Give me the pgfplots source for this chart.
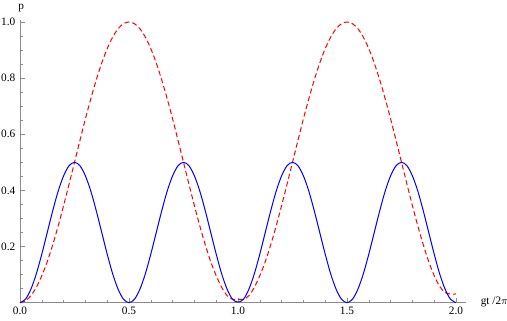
\documentclass[border=0pt]{standalone}
\usepackage{fontspec}
\setmainfont{Liberation Serif}
\usepackage{pgfplots}
\pgfplotsset{compat=1.18}

\begin{document}
\begin{tikzpicture}
\useasboundingbox (-15pt,-13.75pt) rectangle (365.25pt,227pt);
\begin{axis}[
    anchor=origin, at={(0pt,0pt)},
    x=163.5pt, y=210.5pt,
    xmin=0, xmax=2.046, ymin=0, ymax=1.006,
    axis lines=left, axis line style={-, black!45, line width=0.5pt},
    every tick/.style={black!45, line width=0.45pt},
    tick align=inside,
    major tick length=3.75pt, minor tick length=2pt,
    xtick={0,0.5,1,1.5,2}, minor x tick num=4,
    ytick={0.2,0.4,0.6,0.8,1.0}, minor y tick num=3,
    extra y ticks={0.05,0.1,0.15}, extra y tick labels={},
    extra y tick style={major tick length=2pt},
    /pgf/number format/.cd, fixed, fixed zerofill, precision=1, assume math mode=true, /tikz/.cd,
    tick label style={font=\fontsize{8.5}{10}\selectfont, black},
    clip=false,
]
\addplot[red, line width=0.75pt, dash pattern=on 3.75pt off 2.25pt, smooth] coordinates {
(0.000,0.000) (0.025,0.006) (0.050,0.025) (0.075,0.055) (0.100,0.096) (0.125,0.146)
(0.150,0.206) (0.175,0.273) (0.200,0.346) (0.225,0.422) (0.250,0.500) (0.275,0.578)
(0.300,0.655) (0.325,0.727) (0.350,0.794) (0.375,0.854) (0.400,0.905) (0.425,0.946)
(0.450,0.976) (0.475,0.994) (0.500,1.000) (0.525,0.994) (0.550,0.976) (0.575,0.946)
(0.600,0.905) (0.625,0.854) (0.650,0.794) (0.675,0.727) (0.700,0.655) (0.725,0.578)
(0.750,0.500) (0.775,0.422) (0.800,0.346) (0.825,0.273) (0.850,0.206) (0.875,0.146)
(0.900,0.096) (0.925,0.055) (0.950,0.025) (0.975,0.012) (1.000,0.012) (1.025,0.012)
(1.050,0.025) (1.075,0.055) (1.100,0.096) (1.125,0.146) (1.150,0.206) (1.175,0.273)
(1.200,0.346) (1.225,0.422) (1.250,0.500) (1.275,0.578) (1.300,0.655) (1.325,0.727)
(1.350,0.794) (1.375,0.854) (1.400,0.905) (1.425,0.946) (1.450,0.976) (1.475,0.994)
(1.500,1.000) (1.525,0.994) (1.550,0.976) (1.575,0.946) (1.600,0.905) (1.625,0.854)
(1.650,0.794) (1.675,0.727) (1.700,0.655) (1.725,0.578) (1.750,0.500) (1.775,0.422)
(1.800,0.346) (1.825,0.273) (1.850,0.206) (1.875,0.146) (1.900,0.096) (1.925,0.058)
(1.950,0.036) (1.975,0.031) (2.000,0.031)
};
\addplot[blue, line width=0.75pt, smooth] coordinates {
(0.000,0.000) (0.025,0.012) (0.050,0.048) (0.075,0.103) (0.100,0.173) (0.125,0.250)
(0.150,0.327) (0.175,0.397) (0.200,0.452) (0.225,0.488) (0.250,0.500) (0.275,0.488)
(0.300,0.452) (0.325,0.397) (0.350,0.327) (0.375,0.250) (0.400,0.173) (0.425,0.103)
(0.450,0.048) (0.475,0.012) (0.500,0.000) (0.525,0.012) (0.550,0.048) (0.575,0.103)
(0.600,0.173) (0.625,0.250) (0.650,0.327) (0.675,0.397) (0.700,0.452) (0.725,0.488)
(0.750,0.500) (0.775,0.488) (0.800,0.452) (0.825,0.397) (0.850,0.327) (0.875,0.250)
(0.900,0.173) (0.925,0.103) (0.950,0.048) (0.975,0.012) (1.000,0.002) (1.025,0.012)
(1.050,0.048) (1.075,0.103) (1.100,0.173) (1.125,0.250) (1.150,0.327) (1.175,0.397)
(1.200,0.452) (1.225,0.488) (1.250,0.500) (1.275,0.488) (1.300,0.452) (1.325,0.397)
(1.350,0.327) (1.375,0.250) (1.400,0.173) (1.425,0.103) (1.450,0.048) (1.475,0.012)
(1.500,0.000) (1.525,0.012) (1.550,0.048) (1.575,0.103) (1.600,0.173) (1.625,0.250)
(1.650,0.327) (1.675,0.397) (1.700,0.452) (1.725,0.488) (1.750,0.500) (1.775,0.488)
(1.800,0.452) (1.825,0.397) (1.850,0.327) (1.875,0.250) (1.900,0.173) (1.925,0.103)
(1.950,0.048) (1.975,0.012) (2.000,0.000)
};
\node[anchor=base, font=\fontsize{8.5}{10}\selectfont] at (axis cs:0.006,1.043) {p};
\node[anchor=base west, font=\fontsize{8.5}{10}\selectfont] at (axis cs:2.092,-0.006) {gt /2$\pi$};
\end{axis}
\end{tikzpicture}
\end{document}
